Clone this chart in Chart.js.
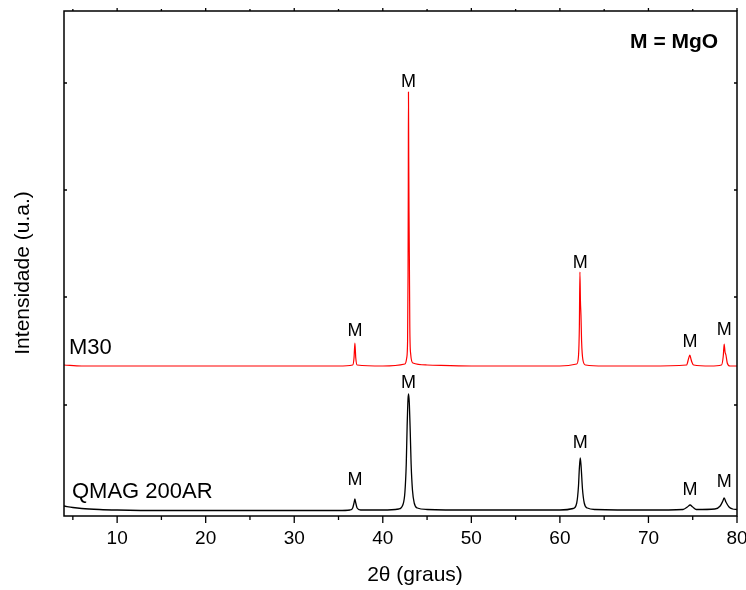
<!DOCTYPE html>
<html>
<head>
<meta charset="utf-8">
<script src="https://cdn.jsdelivr.net/npm/chart.js@4"></script>
<style>
  html,body{margin:0;padding:0;background:#fff;}
  #wrap{width:746px;height:590px;}
</style>
</head>
<body>
<div id="wrap"><canvas id="xrd" width="746" height="590"></canvas></div>
<script>
// x range (2theta) and tick values
const xMin = 4, xMax = 80;
const xTicks = [10, 20, 30, 40, 50, 60, 70, 80];
const xMinorTicks = [5, 15, 25, 35, 45, 55, 65, 75];
const yInnerTicks = [111, 219, 326, 433];

// QMAG 200AR (black, bottom trace)
const qmagX = [4, 5, 6, 8, 10, 15, 20, 25, 30, 35, 36.3, 36.6, 36.75, 36.85, 36.95, 37.1, 37.5, 40, 41.8, 42.3, 42.5, 42.65, 42.75, 42.85, 42.92, 43.0, 43.1, 43.2, 43.35, 43.55, 43.9, 45, 50, 55, 60, 61.5, 61.9, 62.1, 62.2, 62.3, 62.4, 62.55, 62.75, 63.1, 64, 70, 73.9, 74.4, 74.7, 75.0, 75.4, 77.5, 78.1, 78.4, 78.55, 78.75, 79.1, 79.5, 80];
const qmagY = [10, 8.5, 7.5, 6.5, 6, 5.5, 5.5, 5.5, 5.5, 5.5, 6, 8, 13, 17, 13, 8, 6, 6, 7, 12, 24, 52, 90, 117, 122, 112, 84, 52, 26, 13, 8, 6.5, 6, 6, 6, 7.5, 13, 30, 48, 58, 49, 27, 13, 8, 6.5, 6, 6.5, 9, 11, 9, 6.5, 7, 10, 15, 18, 14, 9, 7, 6.5];

// M30 (red, offset trace)
const m30X = [4, 6, 10, 15, 20, 25, 30, 35, 36.6, 36.75, 36.85, 36.95, 37.1, 40, 42.5, 42.7, 42.8, 42.85, 42.88, 42.9, 42.93, 42.96, 43.0, 43.05, 43.15, 43.4, 45, 50, 55, 60, 61.9, 62.1, 62.2, 62.26, 62.32, 62.38, 62.45, 62.6, 62.9, 65, 70, 74.3, 74.55, 74.68, 74.8, 74.9, 75.1, 77, 78.25, 78.45, 78.55, 78.65, 78.75, 78.9, 79.2, 80];
const m30Y = [151, 150, 150, 150, 150, 150, 150, 150, 151, 158, 173, 158, 151, 150, 152, 158, 175, 240, 330, 424, 360, 306, 260, 190, 162, 153, 151, 150, 150, 150, 152, 160, 190, 244, 215, 201, 175, 156, 151, 150, 150, 151, 158, 161, 157, 154, 151, 150, 151, 160, 172, 164, 161, 153, 150, 150];

// "M" peak labels
const peakLabelX = [36.85, 42.9, 62.3, 74.7, 78.55];
const qmagLabelY = [36, 133, 73, 26, 34];
const m30LabelY = [185, 434, 253, 174, 186];

const FONT = '"Liberation Sans", Arial, sans-serif';

const decor = {
  id: 'decor',
  afterDraw(c) {
    const { ctx, chartArea: a, scales: { x, y } } = c;
    ctx.save();
    // frame
    ctx.strokeStyle = '#000';
    ctx.lineWidth = 1.5;
    ctx.strokeRect(a.left, a.top, a.right - a.left, a.bottom - a.top);
    // ticks
    ctx.lineWidth = 1.3;
    ctx.beginPath();
    xTicks.forEach(v => {
      const px = x.getPixelForValue(v);
      ctx.moveTo(px, a.bottom); ctx.lineTo(px, a.bottom + 7);
      ctx.moveTo(px, a.top); ctx.lineTo(px, a.top - 3);
    });
    xMinorTicks.forEach(v => {
      const px = x.getPixelForValue(v);
      ctx.moveTo(px, a.bottom); ctx.lineTo(px, a.bottom + 4);
      ctx.moveTo(px, a.top); ctx.lineTo(px, a.top - 2);
    });
    yInnerTicks.forEach(v => {
      const py = y.getPixelForValue(v);
      ctx.moveTo(a.left, py); ctx.lineTo(a.left + 3, py);
      ctx.moveTo(a.right, py); ctx.lineTo(a.right - 3, py);
    });
    ctx.stroke();

    // peak labels
    ctx.fillStyle = '#000';
    ctx.textAlign = 'center';
    ctx.textBaseline = 'middle';
    ctx.font = '18px ' + FONT;
    peakLabelX.forEach((v, i) => {
      ctx.fillText('M', x.getPixelForValue(v), y.getPixelForValue(qmagLabelY[i]));
      ctx.fillText('M', x.getPixelForValue(v), y.getPixelForValue(m30LabelY[i]));
    });

    // sample names
    ctx.textAlign = 'left';
    ctx.font = '22px ' + FONT;
    ctx.fillText('M30', x.getPixelForValue(4.56), y.getPixelForValue(168));
    ctx.fillText('QMAG 200AR', x.getPixelForValue(4.9), y.getPixelForValue(24));

    // legend note
    ctx.textAlign = 'center';
    ctx.font = 'bold 21px ' + FONT;
    ctx.fillText('M = MgO', x.getPixelForValue(72.9), y.getPixelForValue(474));

    // axis titles
    ctx.font = '21px ' + FONT;
    ctx.fillText('2θ (graus)', 415, 575);
    ctx.translate(23, 273);
    ctx.rotate(-Math.PI / 2);
    ctx.fillText('Intensidade (u.a.)', 0, 0);
    ctx.restore();
  }
};

new Chart(document.getElementById('xrd'), {
  type: 'line',
  data: {
    datasets: [
      { label: 'QMAG 200AR', data: qmagX.map((v, i) => ({ x: v, y: qmagY[i] })), borderColor: '#000', borderWidth: 1.3, pointRadius: 0, cubicInterpolationMode: 'monotone' },
      { label: 'M30', data: m30X.map((v, i) => ({ x: v, y: m30Y[i] })), borderColor: '#ff0000', borderWidth: 1.2, pointRadius: 0, cubicInterpolationMode: 'monotone' }
    ]
  },
  options: {
    responsive: false,
    animation: false,
    layout: { padding: { left: 0, top: 11, right: 9, bottom: 0 } },
    plugins: { legend: { display: false }, tooltip: { enabled: false } },
    scales: {
      x: {
        type: 'linear', min: xMin, max: xMax,
        afterBuildTicks: s => { s.ticks = xTicks.map(v => ({ value: v })); },
        afterFit: s => { s.height = 74; s.paddingLeft = 0; s.paddingRight = 0; },
        grid: { display: false, drawTicks: false },
        border: { display: false },
        ticks: { color: '#000', font: { family: FONT, size: 19 }, padding: 11, maxRotation: 0 }
      },
      y: {
        min: 0, max: 505,
        afterFit: s => { s.width = 64; },
        grid: { display: false },
        border: { display: false },
        ticks: { display: false }
      }
    }
  },
  plugins: [decor]
});
</script>
</body>
</html>
